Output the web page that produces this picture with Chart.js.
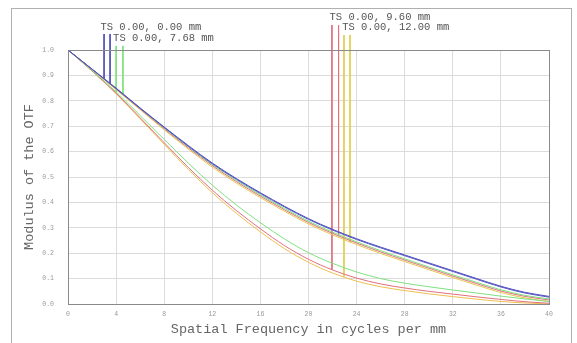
<!DOCTYPE html>
<html>
<head>
<meta charset="utf-8">
<script src="https://cdn.jsdelivr.net/npm/chart.js@4.4.1/dist/chart.umd.min.js"></script>
<style>
  html, body { margin: 0; padding: 0; background: #fff; }
  #wrap { width: 577px; height: 343px; }
</style>
</head>
<body>
<div id="wrap"><canvas id="myChart" width="577" height="343"></canvas></div>
<script>
// spatial frequency (cycles/mm)
const freq = [0, 2, 4, 6, 8, 10, 12, 14, 16, 18, 20, 22, 24, 26, 28, 30, 32, 34, 36, 38, 40];

// MTF, field 0.00 mm
const blueT = [1.0, 0.925, 0.850, 0.772, 0.697, 0.624, 0.555, 0.494, 0.438, 0.385, 0.336, 0.294, 0.257, 0.224, 0.193, 0.162, 0.131, 0.100, 0.070, 0.046, 0.030];
const blueS = [1.0, 0.924, 0.848, 0.770, 0.695, 0.621, 0.552, 0.491, 0.435, 0.382, 0.333, 0.291, 0.254, 0.221, 0.190, 0.159, 0.128, 0.097, 0.067, 0.043, 0.027];
// field 7.68 mm
const greenT = [1.0, 0.920, 0.835, 0.742, 0.648, 0.555, 0.468, 0.390, 0.320, 0.256, 0.202, 0.160, 0.126, 0.100, 0.082, 0.068, 0.055, 0.043, 0.031, 0.020, 0.010];
const greenS = [1.0, 0.924, 0.848, 0.770, 0.693, 0.619, 0.549, 0.487, 0.430, 0.376, 0.326, 0.283, 0.245, 0.210, 0.178, 0.146, 0.115, 0.085, 0.056, 0.034, 0.020];
// field 9.60 mm
const redT = [1.0, 0.918, 0.830, 0.733, 0.635, 0.538, 0.448, 0.368, 0.296, 0.230, 0.176, 0.134, 0.102, 0.079, 0.063, 0.050, 0.039, 0.028, 0.018, 0.009, 0.003];
const redS = [1.0, 0.924, 0.846, 0.768, 0.690, 0.615, 0.545, 0.482, 0.425, 0.371, 0.321, 0.278, 0.240, 0.205, 0.173, 0.141, 0.110, 0.080, 0.051, 0.030, 0.016];
// field 12.00 mm
const yellowT = [1.0, 0.917, 0.828, 0.729, 0.629, 0.530, 0.438, 0.357, 0.284, 0.218, 0.164, 0.122, 0.090, 0.068, 0.053, 0.040, 0.029, 0.019, 0.010, 0.004, 0.0];
const yellowS = [1.0, 0.923, 0.844, 0.765, 0.686, 0.610, 0.539, 0.476, 0.419, 0.365, 0.315, 0.272, 0.234, 0.199, 0.167, 0.135, 0.104, 0.074, 0.045, 0.024, 0.010];

// legend marker lines: frequency, top and bottom level
const markerFreq = [3.0, 3.5, 4.0, 4.57, 21.95, 22.5, 22.95, 23.45];
const markerTop = [1.063, 1.063, 1.016, 1.016, 1.098, 1.098, 1.059, 1.059];
const markerEnd = [0.888, 0.867, 0.835, 0.826, 0.135, 0.269, 0.107, 0.243];

const fieldLabels = ["TS 0.00, 0.00 mm", "TS 0.00, 7.68 mm", "TS 0.00, 9.60 mm", "TS 0.00, 12.00 mm"];
const labelFreq = [2.7, 3.75, 21.75, 22.8];
const labelLevel = [1.091, 1.047, 1.130, 1.091];

const colors = ["#5050c0", "#80e080", "#e07080", "#e0d050"];
const seriesColors = ["#5050c0", "#5858c8", "#80e080", "#80e080", "#e07080", "#e07080", "#eec050", "#e8c850"];
const series = [blueT, blueS, greenT, greenS, redT, redS, yellowT, yellowS];

const toPts = (ys) => ys.map((y, i) => ({ x: freq[i], y: y }));

const datasets = series.map((s, i) => ({
  data: toPts(s),
  borderColor: seriesColors[i],
  borderWidth: 1,
  pointRadius: 0,
  fill: false,
  cubicInterpolationMode: "monotone",
}));

markerFreq.forEach((f, i) => {
  datasets.push({
    data: [{ x: f, y: markerTop[i] }, { x: f, y: markerEnd[i] }],
    borderColor: colors[Math.floor(i / 2)],
    borderWidth: 1,
    pointRadius: 0,
    fill: false,
    clip: false,
  });
});

const monoFont = "'Liberation Mono', 'DejaVu Sans Mono', monospace";

const framePlugin = {
  id: "frame",
  beforeDraw(chart) {
    const ctx = chart.ctx;
    ctx.save();
    ctx.fillStyle = "#fff";
    ctx.fillRect(0, 0, chart.width, chart.height);
    ctx.strokeStyle = "#b0b0b0";
    ctx.lineWidth = 1;
    ctx.strokeRect(11.5, 8.5, 560, 345);
    ctx.restore();
  },
  afterDatasetsDraw(chart) {
    const ctx = chart.ctx;
    const a = chart.chartArea;
    ctx.save();
    ctx.strokeStyle = "#8a8a8a";
    ctx.lineWidth = 1;
    ctx.strokeRect(Math.round(a.left) + 0.5, Math.round(a.top) + 0.5, Math.round(a.right - a.left), Math.round(a.bottom - a.top));
    // field labels
    const xs = chart.scales.x, ys = chart.scales.y;
    ctx.fillStyle = "#555";
    ctx.font = "10.5px " + monoFont;
    ctx.textBaseline = "middle";
    ctx.textAlign = "left";
    fieldLabels.forEach((t, i) => {
      ctx.fillText(t, xs.getPixelForValue(labelFreq[i]), ys.getPixelForValue(labelLevel[i]));
    });
    ctx.restore();
  },
};

new Chart(document.getElementById("myChart"), {
  type: "line",
  data: { datasets: datasets },
  options: {
    responsive: false,
    animation: false,
    layout: { padding: { top: 50, right: 28, left: 0, bottom: 0 } },
    plugins: { legend: { display: false }, tooltip: { enabled: false } },
    scales: {
      x: {
        type: "linear",
        min: 0,
        max: 40,
        ticks: { stepSize: 4, color: "#999", padding: 6, font: { family: monoFont, size: 6.5 } },
        grid: { color: "#dcdcdc", drawTicks: false },
        border: { color: "#8a8a8a" },
        title: {
          display: true,
          text: "Spatial Frequency in cycles per mm",
          color: "#666",
          font: { family: monoFont, size: 13.5 },
          padding: { top: 0, bottom: 5 },
        },
        afterFit: (scale) => { scale.height = 39; },
      },
      y: {
        min: 0,
        max: 1,
        ticks: {
          stepSize: 0.1,
          color: "#999",
          padding: 14,
          font: { family: monoFont, size: 6.5 },
          callback: (v) => v.toFixed(1),
        },
        grid: { color: "#dcdcdc", drawTicks: false },
        border: { color: "#8a8a8a" },
        title: {
          display: true,
          text: "Modulus of the OTF",
          color: "#666",
          font: { family: monoFont, size: 13.5 },
          padding: { top: 21, bottom: 0 },
        },
        afterFit: (scale) => { scale.width = 68; },
      },
    },
  },
  plugins: [framePlugin],
});
</script>
</body>
</html>
